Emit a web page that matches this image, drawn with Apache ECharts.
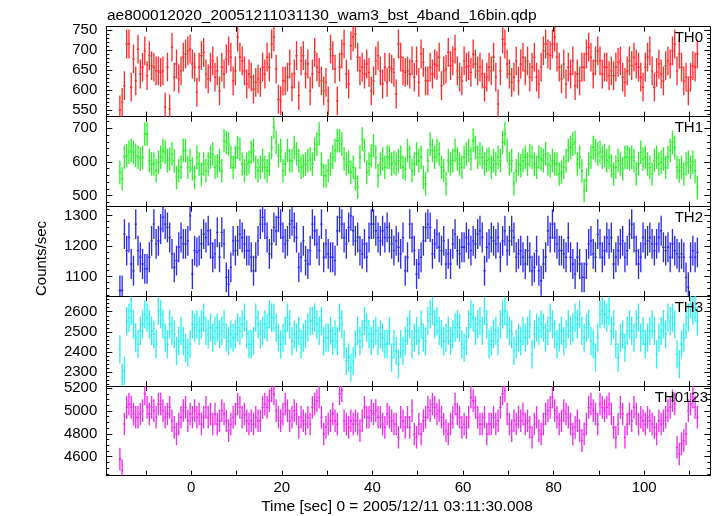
<!DOCTYPE html>
<html><head><meta charset="utf-8">
<script src="https://cdn.jsdelivr.net/npm/echarts@6/dist/echarts.min.js"></script>
<style>html,body{margin:0;padding:0;background:#fff}#c{width:717px;height:516px}</style>
</head><body><div id="c"></div>
<script>
const title = 'ae800012020_20051211031130_wam3_bst_4band_16bin.qdp';
const xName = 'Time [sec] 0 = 2005/12/11 03:11:30.008';
const yName = 'Counts/sec';
const bandNames = ['TH0', 'TH1', 'TH2', 'TH3', 'TH0123'];
const binStart = -15.75;   // centre of first 0.5 s bin
const binWidth = 0.5;

const TH0 = [
550,569,611,715,715,607,678,623,702,640,
657,698,636,686,661,657,648,648,644,648,
557,657,553,707,632,665,628,648,682,690,
698,702,665,657,594,657,686,694,640,628,
657,673,632,648,598,657,640,678,698,682,
623,648,732,682,673,648,615,640,632,602,
619,628,619,657,640,682,657,715,732,652,
577,573,623,623,632,665,607,640,686,586,
673,686,640,665,598,640,694,657,644,623,
598,619,573,702,686,652,573,657,690,715,
640,615,711,732,740,682,648,657,640,665,
644,598,623,673,686,648,615,657,619,657,
652,644,590,715,682,648,644,
648,640,673,632,673,619,690,669,623,623,
657,640,665,661,682,611,648,652,694,661,
673,702,648,632,623,673,657,661,644,690,
665,648,657,640,607,632,657,648,682,632,
565,648,727,715,665,640,619,632,673,623,
665,682,648,673,632,657,682,632,615,657,
698,715,690,686,715,732,682,657,628,665,
615,657,640,673,611,640,623,657,657,690,
707,682,640,673,698,673,640,657,657,636,
648,636,657,669,673,632,619,648,673,661,
682,665,657,632,607,657,682,698,648,607,
644,665,640,623,661,673,665,698,715,648,
690,657,623,632,598,632,661,657,690];

const TH1 = [
569,550,614,619,629,634,629,619,614,609,
614,683,683,604,594,594,574,599,614,634,
629,604,609,624,604,554,574,584,634,634,
584,604,579,554,614,594,564,594,574,594,
614,624,584,589,604,574,663,658,653,614,
584,614,643,638,594,574,594,599,629,634,
584,574,584,604,584,574,594,643,703,658,
619,634,574,594,634,604,604,643,624,604,
584,589,594,604,609,594,638,653,683,594,
559,559,574,594,614,634,663,663,653,609,
594,599,569,584,550,525,614,668,634,569,
594,619,648,614,559,594,609,584,614,614,
594,599,594,604,614,584,579,
634,614,574,594,624,604,614,554,535,604,
653,634,614,634,624,584,574,535,604,594,
604,634,609,594,584,614,624,634,609,663,
643,614,624,614,594,604,609,584,604,594,
614,604,658,683,634,594,604,535,574,594,
589,604,614,594,619,614,594,584,614,609,
604,624,594,589,604,594,594,564,569,584,
604,634,643,653,658,594,614,574,515,545,
594,614,643,634,624,629,614,619,604,614,
589,564,584,604,594,579,614,614,609,614,
604,564,594,629,609,614,594,584,564,604,
614,594,599,609,584,614,634,658,643,584,
574,584,564,594,599,584,599,574,525];

const TH2 = [
1054,1054,1239,1185,1228,1141,1119,1272,1185,1163,
1141,1125,1125,1163,1217,1272,1207,1217,1256,1294,
1272,1261,1228,1174,1130,1152,1196,1228,1207,1207,
1217,1299,1108,1185,1179,1185,1207,1239,1228,1250,
1207,1163,1174,1245,1163,1245,1207,1097,1075,1130,
1217,1185,1217,1239,1228,1207,1185,1185,1163,1119,
1163,1217,1272,1294,1272,1228,1174,1207,1261,1250,
1294,1272,1228,1207,1217,1272,1283,1261,1228,1130,
1163,1217,1152,1141,1185,1272,1250,1207,1185,1272,
1163,1207,1174,1163,1163,1152,1250,1294,1272,1228,
1207,1261,1299,1250,1217,1228,1185,1174,1207,1163,
1228,1272,1272,1250,1228,1217,1250,1228,1261,1228,
1207,1185,1217,1196,1174,1228,1119,
1163,1272,1228,1185,1108,1141,1163,1217,1261,1272,
1261,1174,1207,1239,1196,1185,1217,1141,1174,1141,
1207,1239,1185,1174,1196,1196,1228,1207,1185,1217,
1207,1239,1250,1228,1119,1196,1207,1228,1217,1207,
1228,1163,1217,1250,1185,1217,1250,1228,1163,1174,
1185,1163,1141,1185,1163,1119,1130,1185,1119,1086,
1141,1163,1250,1228,1272,1228,1207,1185,1185,1174,
1163,1228,1163,1141,1108,1163,1141,1097,1097,1141,
1207,1217,1174,1163,1239,1207,1163,1185,1228,1207,
1228,1141,1163,1185,1207,1217,1163,1185,1239,1272,
1228,1185,1141,1163,1228,1207,1217,1228,1207,1185,
1207,1228,1250,1196,1185,1196,1163,1207,1185,1174,
1163,1174,1163,1097,1065,1163,1185,1163,1179];

const TH3 = [
2414,2274,2307,2554,2571,2604,2538,2472,2439,2505,
2538,2587,2571,2538,2505,2488,2439,2604,2587,2538,
2472,2439,2538,2505,2488,2406,2455,2505,2455,2422,
2398,2439,2538,2521,2538,2505,2538,2571,2505,2488,
2521,2472,2505,2521,2488,2505,2538,2472,2455,2488,
2472,2488,2521,2505,2538,2571,2488,2439,2439,2455,
2571,2538,2488,2505,2538,2521,2587,2571,2571,2521,
2472,2439,2472,2505,2571,2538,2455,2488,2472,2505,
2439,2472,2488,2521,2554,2554,2571,2538,2505,2554,
2455,2472,2472,2505,2455,2488,2455,2571,2538,2439,
2356,2373,2323,2356,2439,2505,2455,2488,2554,2521,
2488,2455,2488,2505,2455,2488,2472,2439,2439,2505,
2373,2439,2406,2340,2439,2406,2455,
2505,2538,2439,2472,2505,2455,2538,2472,2455,2554,
2587,2604,2538,2554,2505,2488,2455,2472,2505,2455,
2488,2521,2538,2521,2439,2422,2455,2538,2587,2571,
2505,2538,2554,2505,2604,2538,2439,2455,2488,2505,
2455,2538,2587,2604,2538,2505,2488,2406,2439,2472,
2455,2505,2472,2505,2538,2389,2488,2521,2505,2538,
2521,2472,2505,2571,2538,2488,2439,2472,2505,2455,
2488,2538,2505,2521,2571,2538,2587,2505,2472,2521,
2538,2455,2439,2373,2472,2587,2604,2587,2571,2604,
2505,2538,2439,2373,2472,2488,2422,2505,2538,2505,
2472,2538,2571,2472,2505,2439,2472,2505,2538,2505,
2389,2472,2505,2538,2488,2571,2554,2571,2538,2389,
2340,2439,2472,2538,2571,2637,2604,2620,2554];

const TH0123 = [
4580,4478,4886,5032,5061,5032,4974,4945,4945,4974,
5003,5149,5032,4974,5032,5003,4945,5061,5061,5003,
4945,4974,5032,4915,4857,4799,4886,4945,5003,5032,
4915,4974,4945,5003,4945,4974,4886,4945,5032,4945,
4974,4886,4974,4886,4915,5003,4974,4915,4828,4886,
4945,4974,5061,5032,4945,4974,4915,4886,4915,4886,
4945,4915,4915,5032,5061,5032,5090,5178,5149,5003,
4945,4915,4974,5061,5003,4915,4945,5003,4974,4857,
4945,4915,4886,4945,4886,5032,5061,5090,5120,4945,
4799,4857,4886,4915,4974,4915,4886,5149,5178,4915,
4886,4857,4915,4886,4915,4886,4828,4915,5032,4945,
4945,5003,4974,5003,4945,4945,4886,4857,4974,4945,
4915,4886,4886,4770,4945,4915,4857,
4945,4857,5003,4799,4770,4886,4799,4915,4945,5032,
5003,5061,5032,4974,5003,4945,4886,4828,4799,4886,
4945,5061,4974,4945,4857,4886,4857,4945,5120,5090,
5032,4945,4886,4886,4945,4799,4886,4886,4945,4886,
4915,5032,5149,5178,4974,4886,4828,4915,4886,4945,
4915,4974,4886,4915,4857,4770,4886,4945,4828,4799,
4886,4974,5003,5032,5120,5003,4945,4886,4915,5003,
4974,4945,4886,4799,4857,4915,4828,4741,4799,4886,
5032,5061,5003,4974,4886,5061,5032,5003,5032,5061,
4974,4857,4770,4886,5032,4974,4770,4886,4974,4915,
5032,4974,4886,4945,4915,4886,4945,4915,4886,4857,
4799,4915,4886,4915,4945,5003,5032,5090,5061,4683,
4624,4712,4741,4799,5003,5061,5120,5032,4945];

// 1-sigma error half-widths (counts/sec)
const errors = [36, 35, 49, 70, 99];

const xTicks = [-10, 0, 10, 20, 30, 40, 50, 60, 70, 80, 90, 100, 110];
const xLabels = [0, 20, 40, 60, 80, 100];
const xRange = [-18.75, 114.6];
const yRanges = [[533.3, 758.3], [467, 734.5], [1036, 1329], [2232, 2678], [4434, 5219]];
const yMajor = [[550, 600, 650, 700, 750], [500, 600, 700], [1100, 1200, 1300], [2300, 2400, 2500, 2600], [4600, 4800, 5000, 5200]];
const yMinorStep = [10, 20, 20, 20, 50];

const seriesData = [TH0, TH1, TH2, TH3, TH0123];
const colors = ['#ff2d2d', '#2df02d', '#2d2df0', '#2df0f0', '#f02df0'];

const FONT = '"Liberation Sans", Arial, Helvetica, sans-serif';
const edges = [26.7, 116.7, 206.7, 296, 386, 475.7];
const plotLeft = 106.3, plotRight = 710.3;
const plain = v => String(v);

function minorTicks(range, step, major) {
  const out = [];
  for (let v = Math.ceil(range[0] / step) * step; v <= range[1]; v += step) {
    if (major.indexOf(v) < 0) out.push(v);
  }
  return out;
}

function makeRender(color) {
  return function (params, api) {
    const t = api.value(0), v = api.value(1), e = api.value(2);
    const a = api.coord([t - binWidth / 2, v]);
    const b = api.coord([t + binWidth / 2, v]);
    const hi = api.coord([t, v + e]);
    const lo = api.coord([t, v - e]);
    return {
      type: 'group',
      children: [
        { type: 'line', shape: { x1: hi[0], y1: hi[1], x2: lo[0], y2: lo[1] }, style: { stroke: color, lineWidth: 1.35 } },
        { type: 'line', shape: { x1: a[0], y1: a[1], x2: b[0], y2: b[1] }, style: { stroke: color, lineWidth: 1.35 } }
      ]
    };
  };
}

const grids = [], xAxes = [], yAxes = [], series = [], graphics = [];
const axisLine = { show: true, onZero: false, lineStyle: { color: '#000', width: 1 } };
for (let i = 0; i < 5; i++) {
  grids.push({ left: plotLeft, width: plotRight - plotLeft, top: edges[i], height: edges[i + 1] - edges[i], containLabel: false, outerBoundsMode: 'none' });
  const xCommon = {
    type: 'value', gridIndex: i, min: xRange[0], max: xRange[1], splitLine: { show: false },
    axisLine: axisLine,
    axisTick: { show: true, inside: true, length: 5, customValues: xTicks, lineStyle: { color: '#000' } }
  };
  xAxes.push(Object.assign({}, xCommon, {
    position: 'bottom',
    axisLabel: i === 4 ? { show: true, customValues: xLabels, formatter: plain, margin: 5, color: '#000', fontSize: 15, fontFamily: FONT } : { show: false }
  }));
  xAxes.push(Object.assign({}, xCommon, { position: 'top', axisLabel: { show: false } }));

  const major = yMajor[i];
  const minor = minorTicks(yRanges[i], yMinorStep[i], major);
  const yBase = { type: 'value', gridIndex: i, min: yRanges[i][0], max: yRanges[i][1], splitLine: { show: false }, axisLine: axisLine };
  yAxes.push(Object.assign({}, yBase, {
    position: 'left',
    axisTick: { show: true, inside: true, length: 6, customValues: major, lineStyle: { color: '#000' } },
    axisLabel: { show: true, customValues: major, formatter: plain, margin: 9, color: '#000', fontSize: 15, fontFamily: FONT }
  }));
  yAxes.push(Object.assign({}, yBase, {
    position: 'left',
    axisTick: { show: true, inside: true, length: 3, customValues: minor, lineStyle: { color: '#000' } },
    axisLabel: { show: false }
  }));
  yAxes.push(Object.assign({}, yBase, {
    position: 'right',
    axisTick: { show: true, inside: true, length: 6, customValues: major, lineStyle: { color: '#000' } },
    axisLabel: { show: false }
  }));
  yAxes.push(Object.assign({}, yBase, {
    position: 'right',
    axisTick: { show: true, inside: true, length: 3, customValues: minor, lineStyle: { color: '#000' } },
    axisLabel: { show: false }
  }));

  series.push({
    type: 'custom', name: bandNames[i], xAxisIndex: 2 * i, yAxisIndex: 4 * i, clip: true, silent: true,
    encode: { x: 0, y: 1 },
    data: seriesData[i].map((v, k) => [binStart + k * binWidth, v, errors[i]]),
    renderItem: makeRender(colors[i])
  });

  graphics.push({
    type: 'text', x: i === 4 ? 708 : 703, y: edges[i] + 11.5, z: 100,
    style: { text: bandNames[i], font: '15px ' + FONT, fill: '#000', align: 'right', verticalAlign: 'middle' }
  });
}

graphics.push({ type: 'text', x: 107, y: 15.5, style: { text: title, font: '15.5px ' + FONT, fill: '#000', align: 'left', verticalAlign: 'middle' } });
graphics.push({ type: 'text', x: 397, y: 507, style: { text: xName, font: '15.5px ' + FONT, fill: '#000', align: 'center', verticalAlign: 'middle' } });
graphics.push({ type: 'text', x: 42, y: 258.5, rotation: Math.PI / 2, style: { text: yName, font: '15px ' + FONT, fill: '#000', align: 'center', verticalAlign: 'middle' } });

const chart = echarts.init(document.getElementById('c'), null, { renderer: 'canvas' });
chart.setOption({
  animation: false,
  backgroundColor: '#fff',
  grid: grids,
  xAxis: xAxes,
  yAxis: yAxes,
  series: series,
  graphic: graphics
});
</script>
</body></html>
